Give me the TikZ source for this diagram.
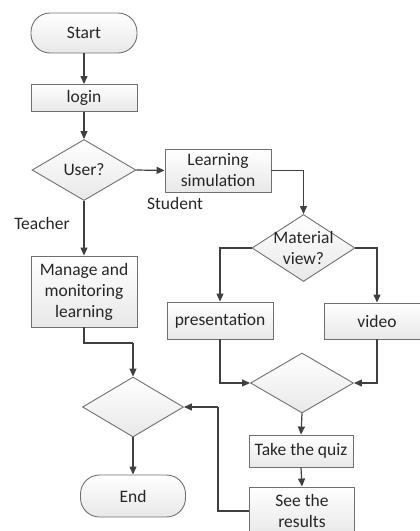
\documentclass[tikz,border=0pt]{standalone}
\usepackage{fontspec}
\setmainfont{Carlito}
\usetikzlibrary{arrows.meta,shapes.geometric}
\definecolor{edge}{HTML}{707070}
\definecolor{wire}{HTML}{404040}
\definecolor{ink}{HTML}{262626}
\tikzset{
  base/.style={draw=edge, line width=0.9pt, top color=white, bottom color=black!9, text=ink,
     font=\fontsize{17.5}{21}\selectfont, align=center, inner sep=0pt},
  boxnode/.style={base, rectangle},
  termnode/.style={base, rectangle, rounded corners=19pt},
  decnode/.style={base, diamond, aspect=1.7},
  lbl/.style={text=ink, font=\fontsize{17.5}{21}\selectfont, inner sep=0pt},
  flow/.style={draw=wire, line width=1.2pt, -{Triangle[length=8pt,width=7pt]}},
  wireline/.style={draw=wire, line width=1.2pt}
}
\begin{document}
\begin{tikzpicture}[x=1pt,y=-1pt]
\useasboundingbox (0,0) rectangle (420,531);
\clip (0,0) rectangle (420,531);
\node[termnode, minimum width=106pt, minimum height=40pt] (start) at (84,33) {Start};
\node[boxnode, minimum width=106pt, minimum height=27pt] (login) at (84,98) {login};
\node[decnode, minimum width=104pt, minimum height=61pt, label={[lbl]center:User?}] (user) at (84,170) {};
\node[boxnode, minimum width=106pt, minimum height=43pt] (learn) at (218,170.5) {Learning\\simulation};
\node[lbl] (student) at (175,203) {Student};
\node[lbl] (teacher) at (42,223) {Teacher};
\node[boxnode, minimum width=106pt, minimum height=71pt] (manage) at (84,291.5) {Manage and\\monitoring\\learning};
\node[decnode, minimum width=103pt, minimum height=67pt, label={[lbl,align=center]center:Material\\view?}] (mat) at (303.5,248) {};
\node[boxnode, minimum width=106pt, minimum height=37pt] (pres) at (220,320.5) {presentation};
\node[boxnode, minimum width=106pt, minimum height=36pt] (video) at (377,321) {video};
\node[decnode, minimum width=103pt, minimum height=60pt] (mid) at (302,383) {};
\node[boxnode, minimum width=104pt, minimum height=32pt] (quiz) at (301,451) {Take the quiz};
\node[boxnode, minimum width=105pt, minimum height=48pt] (results) at (302,511) {See the\\results};
\node[decnode, minimum width=101pt, minimum height=60pt] (endd) at (133,407) {};
\node[termnode, minimum width=105pt, minimum height=42pt] (end) at (133,496) {End};
\coordinate (j1) at (133,343);
\coordinate (j2) at (218,407);
\draw[flow] (start) -- (login);
\draw[flow] (login) -- (user);
\draw[flow] (user.east) -- (learn.west);
\draw[flow] (user.south) -- (manage.north);
\draw[flow] (learn.east) -| (mat.north);
\draw[flow] (mat.west) -| (pres.north);
\draw[flow] (mat.east) -| (video.north);
\draw[flow] (pres.south) |- (mid.west);
\draw[flow] (video.south) |- (mid.east);
\draw[flow] (mid.south) -- (quiz.north);
\draw[flow] (quiz.south) -- (results.north);
\draw[wireline] (manage.south) |- (j1);
\draw[flow] (j1) -- (endd.north);
\draw[wireline] (results.west) -| (j2);
\draw[flow] (j2) -- (endd.east);
\draw[flow] (endd.south) -- (end.north);
\end{tikzpicture}
\end{document}
